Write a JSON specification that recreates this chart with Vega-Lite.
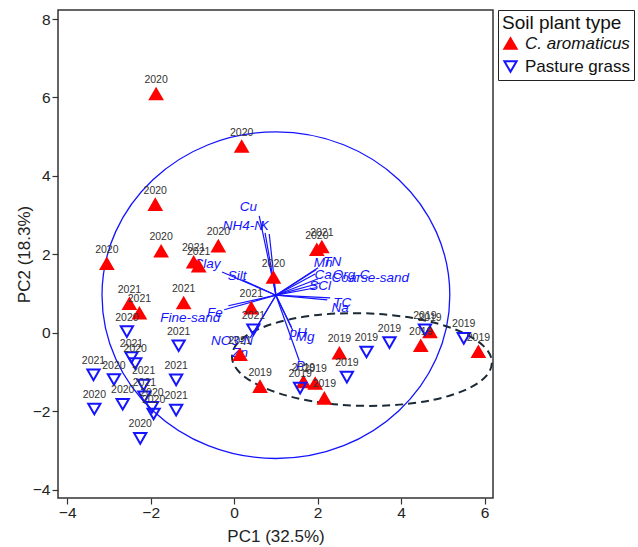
{
  "$schema": "https://vega.github.io/schema/vega-lite/v6.json",
  "autosize": {"type": "none"},
  "padding": {"left": 58, "top": 10, "right": 145, "bottom": 49},
  "width": 435,
  "height": 488,
  "background": "white",
  "config": {
    "view": {"stroke": "#333333", "strokeWidth": 1.5},
    "font": "Liberation Sans",
    "axis": {
      "grid": false, "domain": false, "tickColor": "#333333", "tickWidth": 1.2, "tickSize": 6,
      "labelColor": "#222222", "labelFontSize": 15.5, "labelFont": "Liberation Sans",
      "titleColor": "#222222", "titleFontSize": 17, "titleFontWeight": "normal", "titleFont": "Liberation Sans"
    }
  },
  "datasets": {
    "samples": [
      {"pc1": -1.87, "pc2": 6.09, "type": "C. aromaticus", "year": "2020"},
      {"pc1": 0.18, "pc2": 4.75, "type": "C. aromaticus", "year": "2020"},
      {"pc1": -1.89, "pc2": 3.27, "type": "C. aromaticus", "year": "2020"},
      {"pc1": -1.75, "pc2": 2.08, "type": "C. aromaticus", "year": "2020"},
      {"pc1": -3.05, "pc2": 1.76, "type": "C. aromaticus", "year": "2020"},
      {"pc1": -0.38, "pc2": 2.21, "type": "C. aromaticus", "year": "2020"},
      {"pc1": -0.97, "pc2": 1.80, "type": "C. aromaticus", "year": "2021"},
      {"pc1": -0.85, "pc2": 1.70, "type": "C. aromaticus", "year": "2021"},
      {"pc1": 0.94, "pc2": 1.41, "type": "C. aromaticus", "year": "2020"},
      {"pc1": 1.98, "pc2": 2.12, "type": "C. aromaticus", "year": "2020"},
      {"pc1": 2.10, "pc2": 2.19, "type": "C. aromaticus", "year": "2021"},
      {"pc1": -2.51, "pc2": 0.74, "type": "C. aromaticus", "year": "2021"},
      {"pc1": -2.27, "pc2": 0.50, "type": "C. aromaticus", "year": "2021"},
      {"pc1": -1.21, "pc2": 0.76, "type": "C. aromaticus", "year": "2021"},
      {"pc1": 0.41, "pc2": 0.63, "type": "C. aromaticus", "year": "2021"},
      {"pc1": 0.14, "pc2": -0.56, "type": "C. aromaticus", "year": "2021"},
      {"pc1": 0.62, "pc2": -1.37, "type": "C. aromaticus", "year": "2019"},
      {"pc1": 1.66, "pc2": -1.25, "type": "C. aromaticus", "year": "2019"},
      {"pc1": 1.94, "pc2": -1.29, "type": "C. aromaticus", "year": "2019"},
      {"pc1": 2.16, "pc2": -1.67, "type": "C. aromaticus", "year": "2019"},
      {"pc1": 2.52, "pc2": -0.52, "type": "C. aromaticus", "year": "2019"},
      {"pc1": 4.47, "pc2": -0.33, "type": "C. aromaticus", "year": "2019"},
      {"pc1": 4.69, "pc2": 0.02, "type": "C. aromaticus", "year": "2019"},
      {"pc1": 5.85, "pc2": -0.48, "type": "C. aromaticus", "year": "2019"},
      {"pc1": -2.57, "pc2": 0.03, "type": "Pasture grass", "year": "2020"},
      {"pc1": -1.33, "pc2": -0.33, "type": "Pasture grass", "year": "2021"},
      {"pc1": 0.46, "pc2": 0.08, "type": "Pasture grass", "year": "2021"},
      {"pc1": -2.46, "pc2": -0.63, "type": "Pasture grass", "year": "2021"},
      {"pc1": -2.37, "pc2": -0.78, "type": "Pasture grass", "year": "2020"},
      {"pc1": -3.37, "pc2": -1.07, "type": "Pasture grass", "year": "2021"},
      {"pc1": -2.88, "pc2": -1.19, "type": "Pasture grass", "year": "2020"},
      {"pc1": -2.17, "pc2": -1.33, "type": "Pasture grass", "year": "2021"},
      {"pc1": -1.39, "pc2": -1.20, "type": "Pasture grass", "year": "2021"},
      {"pc1": -3.35, "pc2": -1.94, "type": "Pasture grass", "year": "2020"},
      {"pc1": -2.67, "pc2": -1.82, "type": "Pasture grass", "year": "2020"},
      {"pc1": -2.15, "pc2": -1.63, "type": "Pasture grass", "year": "2021"},
      {"pc1": -1.97, "pc2": -1.90, "type": "Pasture grass", "year": "2020"},
      {"pc1": -1.93, "pc2": -2.07, "type": "Pasture grass", "year": "2020"},
      {"pc1": -1.39, "pc2": -1.97, "type": "Pasture grass", "year": "2021"},
      {"pc1": -2.25, "pc2": -2.69, "type": "Pasture grass", "year": "2020"},
      {"pc1": 1.58, "pc2": -1.41, "type": "Pasture grass", "year": "2019"},
      {"pc1": 2.70, "pc2": -1.13, "type": "Pasture grass", "year": "2019"},
      {"pc1": 3.17, "pc2": -0.49, "type": "Pasture grass", "year": "2019"},
      {"pc1": 3.72, "pc2": -0.25, "type": "Pasture grass", "year": "2019"},
      {"pc1": 4.57, "pc2": 0.08, "type": "Pasture grass", "year": "2019"},
      {"pc1": 5.50, "pc2": -0.14, "type": "Pasture grass", "year": "2019"}
    ],
    "loadings": [
      {"var": "Cu", "tx": 0.60, "ty": 2.98, "lx": 0.34, "ly": 3.21},
      {"var": "NH4-N", "tx": 0.74, "ty": 2.55, "lx": 0.22, "ly": 2.73},
      {"var": "K", "tx": 0.84, "ty": 2.52, "lx": 0.72, "ly": 2.73},
      {"var": "Clay", "tx": -0.29, "ty": 1.55, "lx": -0.65, "ly": 1.76},
      {"var": "Silt", "tx": 0.19, "ty": 1.35, "lx": 0.07, "ly": 1.45},
      {"var": "Fine-sand", "tx": -0.24, "ty": 0.59, "lx": -1.05, "ly": 0.38},
      {"var": "Fe", "tx": -0.14, "ty": 0.69, "lx": -0.46, "ly": 0.51},
      {"var": "NO3-N", "tx": 0.48, "ty": 0.03, "lx": -0.05, "ly": -0.20},
      {"var": "Zn", "tx": 0.38, "ty": -0.13, "lx": 0.14, "ly": -0.51},
      {"var": "pH", "tx": 1.37, "ty": 0.15, "lx": 1.53, "ly": 0.0},
      {"var": "Mg", "tx": 1.41, "ty": 0.05, "lx": 1.70, "ly": -0.10},
      {"var": "P", "tx": 1.56, "ty": -0.71, "lx": 1.58, "ly": -0.84},
      {"var": "Mn", "tx": 1.96, "ty": 1.61, "lx": 2.13, "ly": 1.78},
      {"var": "TN", "tx": 2.01, "ty": 1.66, "lx": 2.35, "ly": 1.81},
      {"var": "Ca", "tx": 1.94, "ty": 1.50, "lx": 2.13, "ly": 1.48},
      {"var": "Org-C", "tx": 2.01, "ty": 1.38, "lx": 2.80, "ly": 1.48},
      {"var": "Coarse-sand", "tx": 2.06, "ty": 1.27, "lx": 3.26, "ly": 1.40},
      {"var": "SCl", "tx": 1.96, "ty": 1.15, "lx": 2.06, "ly": 1.20},
      {"var": "TC", "tx": 2.30, "ty": 0.89, "lx": 2.59, "ly": 0.76},
      {"var": "Na", "tx": 2.23, "ty": 0.84, "lx": 2.54, "ly": 0.64}
    ]
  },
  "layer": [
    {
      "data": {"values": [{"cx": 1.0, "cy": 0.96}]},
      "mark": {
        "type": "point", "filled": false, "opacity": 1, "stroke": "#1414ff", "strokeWidth": 1.3, "size": 120965,
        "shape": "M1,0C1,0.5186,0.5523,0.939,0,0.939C-0.5523,0.939,-1,0.5186,-1,0C-1,-0.5186,-0.5523,-0.939,0,-0.939C0.5523,-0.939,1,-0.5186,1,0Z"
      },
      "encoding": {
        "x": {"field": "cx", "type": "quantitative"},
        "y": {"field": "cy", "type": "quantitative"}
      }
    },
    {
      "data": {"values": [{"cx": 3.06, "cy": -0.68}]},
      "mark": {
        "type": "point", "filled": false, "opacity": 1, "stroke": "#1b2a36", "strokeWidth": 2, "strokeDash": [8, 5], "size": 67600, "angle": 1.5,
        "shape": "M1,0C1,0.1966,0.5523,0.356,0,0.356C-0.5523,0.356,-1,0.1966,-1,0C-1,-0.1966,-0.5523,-0.356,0,-0.356C0.5523,-0.356,1,-0.1966,1,0Z"
      },
      "encoding": {
        "x": {"field": "cx", "type": "quantitative"},
        "y": {"field": "cy", "type": "quantitative"}
      }
    },
    {
      "data": {"name": "loadings"},
      "mark": {"type": "rule", "color": "#1414ff", "strokeWidth": 1.2},
      "encoding": {
        "x": {"field": "tx", "type": "quantitative"},
        "y": {"field": "ty", "type": "quantitative"},
        "x2": {"datum": 1.0},
        "y2": {"datum": 0.96}
      }
    },
    {
      "data": {"name": "loadings"},
      "mark": {"type": "text", "color": "#1414ff", "fontSize": 13.5, "fontStyle": "italic", "font": "Liberation Sans", "align": "center", "baseline": "middle"},
      "encoding": {
        "x": {"field": "lx", "type": "quantitative"},
        "y": {"field": "ly", "type": "quantitative"},
        "text": {"field": "var"}
      }
    },
    {
      "data": {"name": "samples"},
      "mark": {"type": "point", "opacity": 1, "strokeWidth": 2, "size": 150},
      "encoding": {
        "x": {
          "field": "pc1", "type": "quantitative", "title": "PC1 (32.5%)",
          "scale": {"domain": [-4.22, 6.2], "nice": false, "zero": false},
          "axis": {"values": [-4, -2, 0, 2, 4, 6], "labelPadding": 1, "titlePadding": 8}
        },
        "y": {
          "field": "pc2", "type": "quantitative", "title": "PC2 (18.3%)",
          "scale": {"domain": [-4.21, 8.23], "nice": false, "zero": false},
          "axis": {"values": [-4, -2, 0, 2, 4, 6, 8], "labelPadding": 2, "titlePadding": -1}
        },
        "shape": {
          "field": "type", "type": "nominal", "title": "Soil plant type",
          "scale": {"domain": ["C. aromaticus", "Pasture grass"], "range": ["triangle-up", "triangle-down"]}
        },
        "fill": {
          "field": "type", "type": "nominal", "title": "Soil plant type",
          "scale": {"domain": ["C. aromaticus", "Pasture grass"], "range": ["#ff0000", "transparent"]}
        },
        "stroke": {
          "field": "type", "type": "nominal", "title": "Soil plant type",
          "scale": {"domain": ["C. aromaticus", "Pasture grass"], "range": ["#ff0000", "#1414ff"]},
          "legend": {
            "orient": "none", "legendX": 440, "legendY": 0,
            "strokeColor": "#222222", "padding": 4,
            "titleFontSize": 19, "titleFontWeight": "normal", "titleColor": "#111111", "titleFont": "Liberation Sans", "titlePadding": 2,
            "labelFontSize": 17, "labelColor": "#111111", "labelFont": "Liberation Sans",
            "labelFontStyle": {"expr": "datum.value === 'C. aromaticus' ? 'italic' : 'normal'"},
            "symbolSize": 150, "symbolStrokeWidth": 2, "rowPadding": 4, "labelOffset": 6
          }
        }
      }
    },
    {
      "data": {"name": "samples"},
      "mark": {"type": "text", "color": "#333333", "fontSize": 10.5, "font": "Liberation Sans", "dy": -14, "baseline": "middle"},
      "encoding": {
        "x": {"field": "pc1", "type": "quantitative"},
        "y": {"field": "pc2", "type": "quantitative"},
        "text": {"field": "year"}
      }
    }
  ]
}
